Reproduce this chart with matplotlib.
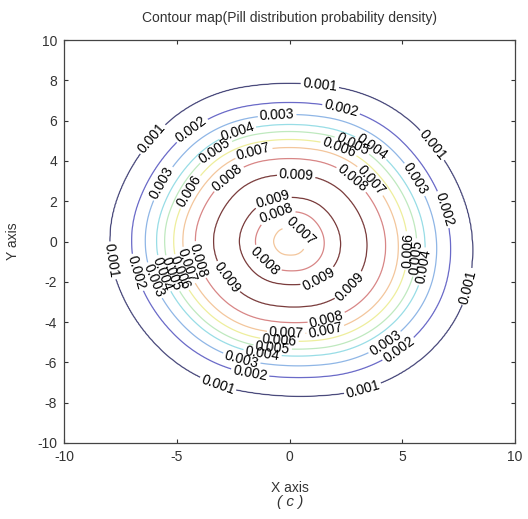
import numpy as np
import matplotlib.pyplot as plt

plt.rcParams['font.family'] = ['Liberation Sans', 'DejaVu Sans']
plt.rcParams['axes.unicode_minus'] = False

# radial density profile
prof_r = [0, 0.7, 1.5, 2.2, 2.75, 3.35, 4.15, 4.7, 5.1, 5.5, 5.85, 6.35, 6.95, 7.9, 10.5, 15]
prof_d = [0.0064, 0.007, 0.008, 0.009, 0.0094, 0.009, 0.008, 0.007, 0.006, 0.005,
          0.004, 0.003, 0.002, 0.001, 0.0002, 0.0]

# radius of the outer 0.001 contour by direction (degrees)
outline_ang = [0, 30, 60, 90, 120, 150, 180, 210, 240, 270, 300, 330]
outline_r = [8.1, 7.9, 8.1, 7.75, 8.1, 7.85, 8.0, 7.8, 7.85, 7.55, 8.15, 8.35]

levels = [0.001, 0.002, 0.003, 0.004, 0.005, 0.006, 0.007, 0.008, 0.009]
level_colors = ['#4a4a7c', '#6a6ac8', '#8fb6e6', '#98dde6', '#bfe9bf',
                '#eeee9c', '#f3c69c', '#d88686', '#7a3c3c']

# where the labels sit on each ring (direction in degrees)
outer_label_ang = {
    0.001: [80, 140, 37, 187, 344, 246, 294],
    0.002: [71, 128, 13, 193, 312, 255],
    0.003: [95, 153, 29, 198, 310, 250],
    0.004: [113, 52, 196, 348, 258],
    0.005: [126, 60, 197, 352, 262],
    0.006: [151, 65, 198, 355, 265],
    0.007: [110, 40, 195, 290, 268],
    0.008: [131, 48, 193, 293],
    0.009: [85, 213, 320],
}
inner_label_ang = {0.009: [110, 305], 0.008: [112, 222], 0.007: [45]}

# outline scale, smoothed round the circle so the rings have no kinks
deg = np.arange(360)
scale = np.interp(deg, outline_ang, outline_r, period=360) / prof_r[13]
win = np.ones(31) / 31
scale = np.convolve(np.concatenate([scale[-15:], scale, scale[:15]]), win, mode='valid')

# building the density grid
g = np.linspace(-10, 10, 401)
X, Y = np.meshgrid(g, g)
R = np.hypot(X, Y)
T = np.degrees(np.arctan2(Y, X)) % 360
S = np.interp(T, deg, scale, period=360)
Z = np.interp(R / S, prof_r, prof_d)

fig = plt.figure(figsize=(5.28, 5.19), dpi=100)
ax = fig.add_axes([64 / 528, 76 / 519, 451 / 528, 403 / 519])

cs = ax.contour(X, Y, Z, levels=levels, colors=level_colors, linewidths=0.9)


def ring_points(segs, angs, inner):
    rad = [np.hypot(s[:, 0], s[:, 1]).mean() for s in segs]
    seg = segs[int(np.argmin(rad))] if inner else segs[int(np.argmax(rad))]
    va = np.degrees(np.arctan2(seg[:, 1], seg[:, 0])) % 360
    pts = []
    for a in angs:
        d = np.abs((va - a + 180) % 360 - 180)
        pts.append(tuple(seg[int(np.argmin(d))]))
    return pts


label_pts = []
for i, lev in enumerate(levels):
    segs = [s for s in cs.allsegs[i] if len(s) > 2]
    label_pts += ring_points(segs, outer_label_ang[lev], False)
    if lev in inner_label_ang and len(segs) > 1:
        label_pts += ring_points(segs, inner_label_ang[lev], True)

cs.clabel(levels, manual=label_pts, inline=True, inline_spacing=2,
          fmt='%.3f', fontsize=10, colors='k')

#Axes config
ax.set_xlim(-10, 10)
ax.set_ylim(-10, 10)
ax.set_xticks([-10, -5, 0, 5, 10])
ax.set_yticks(np.arange(-10, 11, 2))
ax.tick_params(direction='in', top=True, right=True, length=3, width=0.8,
               labelsize=10, colors='#333333', pad=5)
for sp in ax.spines.values():
    sp.set_color('#444444')
    sp.set_linewidth(0.9)

ax.set_title('Contour map(Pill distribution probability density)', fontsize=10,
             color='#333333', pad=13)
ax.set_xlabel('X axis', fontsize=10, color='#333333', labelpad=12)
ax.set_ylabel('Y axis', fontsize=10, color='#333333', labelpad=12)
fig.text(290 / 528, 1 - 502 / 519, '( c )', ha='center', va='center',
         fontsize=11, style='italic', color='#333333')

fig.savefig('out.png', dpi=100)
